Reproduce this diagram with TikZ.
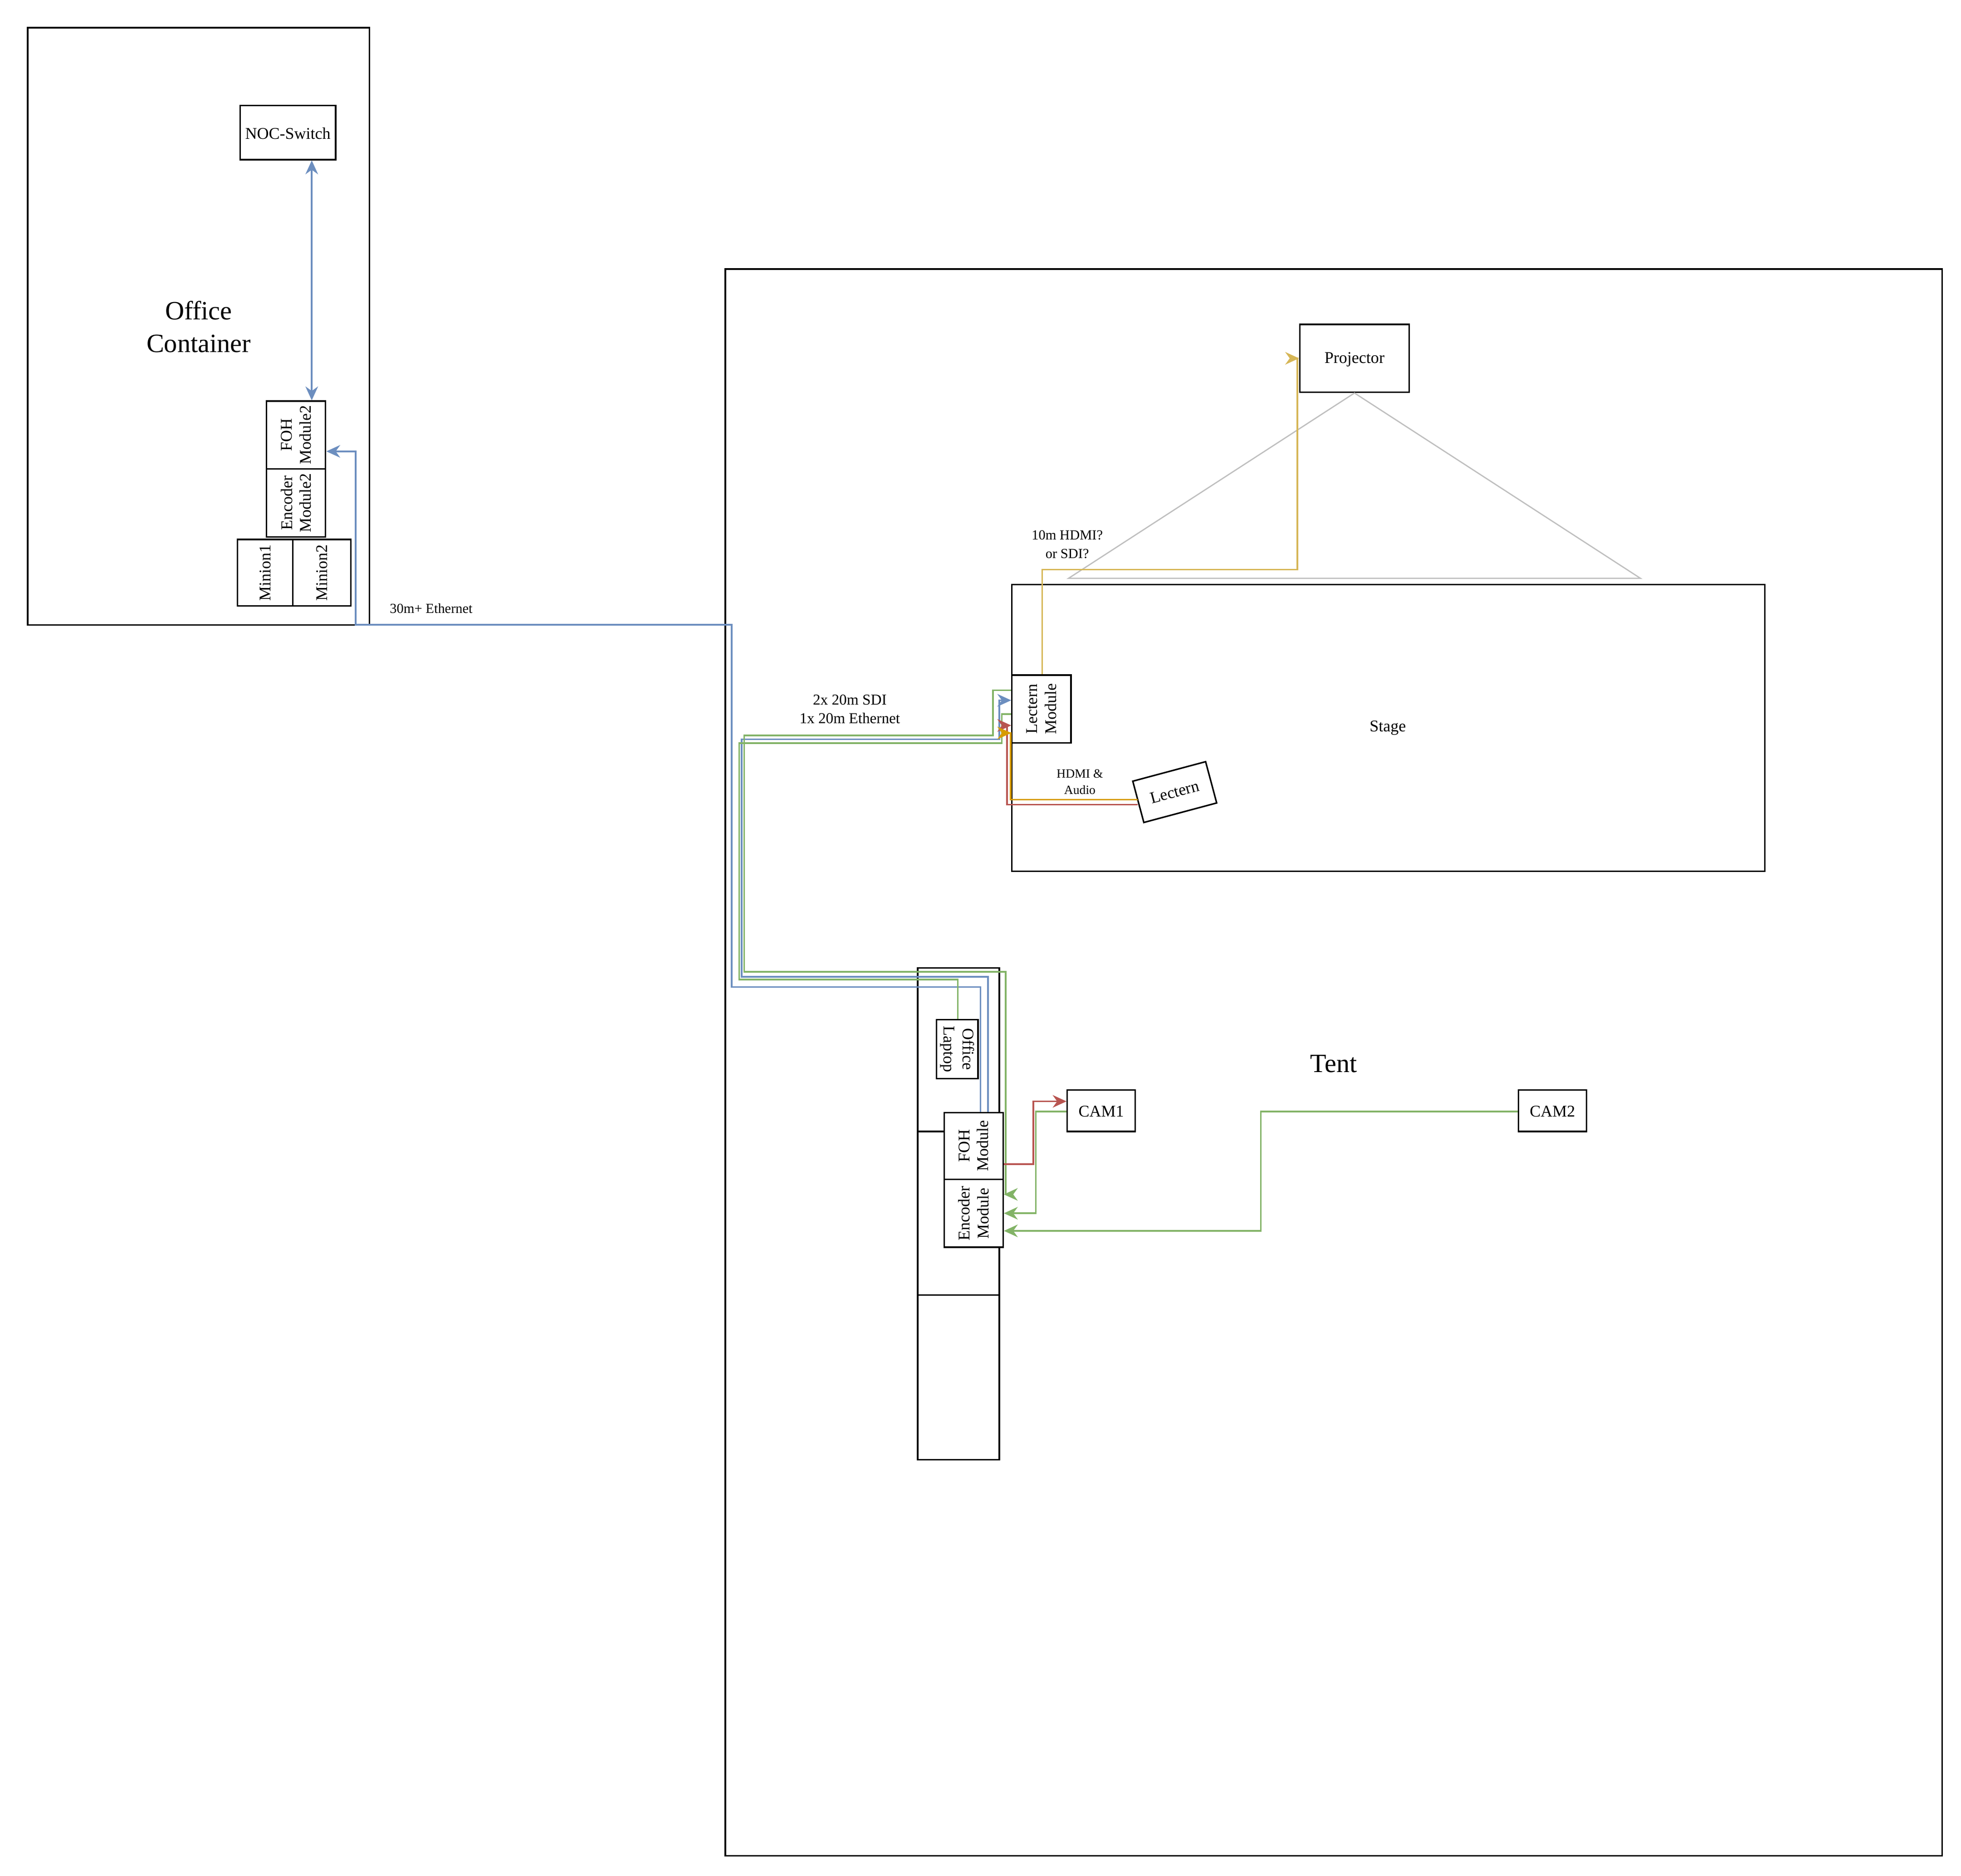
\documentclass[tikz,border=0pt]{standalone}
\usepackage{fontspec}
\setmainfont{Liberation Serif}
\usetikzlibrary{arrows.meta}
\definecolor{cblue}{HTML}{6C8EBF}
\definecolor{cgreen}{HTML}{82B366}
\definecolor{cred}{HTML}{B85450}
\definecolor{cyel}{HTML}{D6B656}
\definecolor{corange}{HTML}{D79B00}
\tikzset{
 box/.style={draw,line width=1.2pt,inner sep=0pt},
 lbl/.style={align=center,inner sep=0pt,font=\fontsize{13}{15}\selectfont},
 small/.style={align=center,inner sep=0pt,font=\fontsize{11}{15}\selectfont},
 wire/.style={line width=1.3pt},
 tip/.style={-{Stealth[length=11pt,width=10pt]}},
}
\begin{document}
\begin{tikzpicture}[x=1pt,y=-1pt]
\useasboundingbox (0,0) rectangle (1560,1492);
% containers
\node[box,minimum width=272,minimum height=475] (office) at (158,259.5) {};
\node[lbl,font=\fontsize{21}{26}\selectfont] (officet) at (158,260) {Office\\Container};
\node[box,minimum width=968,minimum height=1262] (tent) at (1061,845) {};
\node[lbl,font=\fontsize{21}{26}\selectfont] (tentt) at (1061,846) {Tent};
\node[box,minimum width=599,minimum height=228] (stage) at (1104.5,579) {};
\node[lbl] (staget) at (1104,579) {Stage};
% office items
\node[box,minimum width=76,minimum height=43] (noc) at (229,105.5) {};
\node[lbl] (noct) at (229,106) {NOC-Switch};
\node[box,minimum width=47,minimum height=54] (foh2) at (235.5,346) {};
\node[lbl,rotate=90] (foh2t) at (235.5,346) {FOH\\Module2};
\node[box,minimum width=47,minimum height=54] (enc2) at (235.5,400) {};
\node[lbl,rotate=90] (enc2t) at (235.5,400) {Encoder\\Module2};
\node[box,minimum width=44,minimum height=53] (min1) at (211,455.5) {};
\node[lbl,rotate=90] (min1t) at (211,455.5) {Minion1};
\node[box,minimum width=46,minimum height=53] (min2) at (256,455.5) {};
\node[lbl,rotate=90] (min2t) at (256,455.5) {Minion2};
% tent items
\node[box,minimum width=87,minimum height=54] (proj) at (1077.5,285) {};
\node[lbl] (projt) at (1077.5,286) {Projector};
\node[box,minimum width=47,minimum height=54] (lm) at (828.5,564) {};
\node[lbl,rotate=90] (lmt) at (828.5,564) {Lectern\\Module};
\node[box,minimum width=60,minimum height=34,rotate=15] (lec) at (934.5,630) {};
\node[lbl,rotate=15] (lect) at (934.5,630) {Lectern};
\node[box,minimum width=65,minimum height=391] (rack) at (762.5,965.5) {};
\draw[line width=1.2pt] (730,900) -- (751,900);
\draw[line width=1.2pt] (730,1030) -- (795,1030);
\node[box,minimum width=33,minimum height=47,fill=white] (lap) at (761.5,834.5) {};
\node[lbl,rotate=-90] (lapt) at (761.5,834.5) {Office\\Laptop};
\node[box,minimum width=47,minimum height=53,fill=white] (foh) at (774.5,911.5) {};
\node[lbl,rotate=90] (foht) at (774.5,911.5) {FOH\\Module};
\node[box,minimum width=47,minimum height=54,fill=white] (enc) at (774.5,965) {};
\node[lbl,rotate=90] (enct) at (774.5,965) {Encoder\\Module};
\node[box,minimum width=54,minimum height=33] (cam1) at (876,883.5) {};
\node[lbl] (cam1t) at (876,884) {CAM1};
\node[box,minimum width=54,minimum height=33] (cam2) at (1235,883.5) {};
\node[lbl] (cam2t) at (1235,884) {CAM2};
% projection triangle
\draw[gray!50,line width=1pt] (proj.south) -- (850,460) -- (1305,460) -- cycle;
% labels
\node[small] (l1) at (849,433) {10m HDMI?\\or SDI?};
\node[small,font=\fontsize{12}{15}\selectfont] (l2) at (676,564) {2x 20m SDI\\1x 20m Ethernet};
\node[small,font=\fontsize{10}{13}\selectfont] (l3) at (859,622) {HDMI \&\\Audio};
\node[small] (l4) at (343,484) {30m+ Ethernet};
% wires
\draw[wire,cblue,{Stealth[length=11pt,width=10pt]}-{Stealth[length=11pt,width=10pt]}] (noc.south -| 248,0) -- (foh2.north -| 248,0);
\draw[wire,cblue,tip] (foh.north -| 780,0) -- (780,785) -- (582,785) -- (582,497) -- (283,497) -- (283,359) -- (foh2.east |- 0,359);
\draw[wire,cblue,tip] (foh.north -| 786,0) -- (786,777) -- (590,777) -- (590,588) -- (795,588) -- (795,557) -- (lm.west |- 0,557);
\draw[wire,cgreen,tip] (lm.west |- 0,549) -- (790,549) -- (790,585) -- (592,585) -- (592,773) -- (800,773) -- (800,950) -- (enc.east |- 0,950);
\draw[wire,cgreen] (lap.north -| 762,0) -- (762,779) -- (588,779) -- (588,591) -- (797,591) -- (797,568) -- (lm.west |- 0,568);
\draw[wire,cred,tip] (lec.west |- 0,640) -- (801,640) -- (801,577) -- (lm.west |- 0,577);
\draw[wire,corange,tip] (lec.west |- 0,636) -- (804,636) -- (804,583) -- (lm.west |- 0,583);
\draw[wire,cyel,tip] (lm.north -| 829,0) -- (829,453) -- (1032,453) -- (1032,285) -- (proj.west |- 0,285);
\draw[wire,cred,tip] (foh.east |- 0,926) -- (822,926) -- (822,876) -- (cam1.west |- 0,876);
\draw[wire,cgreen,tip] (cam1.west |- 0,884) -- (824,884) -- (824,965) -- (enc.east |- 0,965);
\draw[wire,cgreen,tip] (cam2.west |- 0,884) -- (1003,884) -- (1003,979) -- (enc.east |- 0,979);
\end{tikzpicture}
\end{document}
